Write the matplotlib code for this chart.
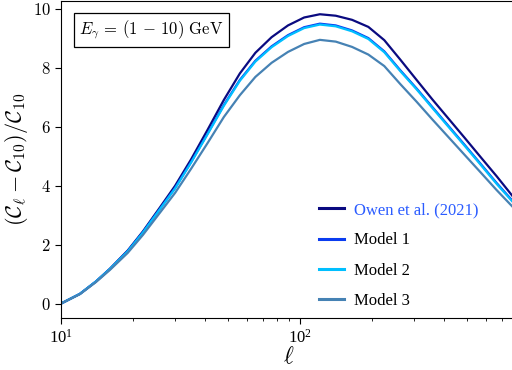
import matplotlib
matplotlib.use('Agg')
import matplotlib.pyplot as plt
from matplotlib.ticker import FuncFormatter

plt.rcParams['font.family'] = 'serif'
plt.rcParams['font.serif'] = ['Liberation Serif', 'DejaVu Serif']
plt.rcParams['mathtext.fontset'] = 'cm'

# multipole bins
ell = [10, 12, 14, 16, 19, 22, 26, 30, 35, 41, 48, 56, 65, 76, 89, 104, 121,
       141, 165, 193, 225, 263, 307, 358, 418, 488, 570, 665, 776, 906]

owen = [0.00, 0.33, 0.75, 1.18, 1.80, 2.45, 3.28, 4.00, 4.90, 5.90, 6.92, 7.82,
        8.52, 9.05, 9.45, 9.72, 9.83, 9.78, 9.64, 9.40, 8.95, 8.28, 7.60, 6.93,
        6.28, 5.63, 4.97, 4.32, 3.64, 3.00]
model1 = [0.00, 0.33, 0.75, 1.17, 1.78, 2.42, 3.23, 3.93, 4.81, 5.77, 6.75, 7.60,
          8.25, 8.74, 9.12, 9.39, 9.51, 9.45, 9.28, 9.02, 8.57, 7.92, 7.31, 6.67,
          6.03, 5.39, 4.74, 4.09, 3.48, 2.87]
model2 = [0.00, 0.33, 0.75, 1.17, 1.77, 2.41, 3.22, 3.91, 4.79, 5.75, 6.72, 7.57,
          8.22, 8.71, 9.09, 9.36, 9.48, 9.42, 9.25, 8.99, 8.54, 7.89, 7.28, 6.64,
          6.00, 5.36, 4.71, 4.06, 3.45, 2.84]
model3 = [0.00, 0.32, 0.73, 1.14, 1.72, 2.33, 3.10, 3.76, 4.58, 5.45, 6.34, 7.08,
          7.70, 8.18, 8.55, 8.82, 8.96, 8.90, 8.72, 8.46, 8.07, 7.45, 6.86, 6.25,
          5.65, 5.05, 4.45, 3.85, 3.28, 2.70]

series = [
    ('Owen et al. (2021)', owen, '#0a0a80'),
    ('Model 1', model1, '#0a3cf0'),
    ('Model 2', model2, '#00bfff'),
    ('Model 3', model3, '#4682b4'),
]

fig = plt.figure(figsize=(5.12, 3.70), dpi=100)
ax = fig.add_axes([61 / 512, 52 / 370, 455 / 512, 317 / 370])

for name, vals, col in series:
    ax.plot(ell, vals, color=col, lw=1.6, label=name)

ax.set_xscale('log')
ax.set_xlim(10, 800)
ax.set_ylim(-0.49, 10.28)
ax.set_yticks([0, 2, 4, 6, 8, 10])
ax.yaxis.set_major_formatter(FuncFormatter(lambda v, p: r'$%d$' % v))
ax.tick_params(axis='both', which='major', labelsize=12, length=4)
ax.tick_params(axis='both', which='minor', length=2.5)

ax.set_xlabel(r'$\ell$', fontsize=17, labelpad=0)
ax.set_ylabel(r'$(\mathcal{C}_\ell-\mathcal{C}_{10})/\mathcal{C}_{10}$', fontsize=16,
              labelpad=2)

ax.text(0.04, 0.945, r'$E_\gamma\,=\,(1\,-\,10)\ \mathrm{GeV}$', transform=ax.transAxes,
        fontsize=12, va='top', ha='left',
        bbox=dict(boxstyle='square,pad=0.32', fc='white', ec='black', lw=0.9))

leg = ax.legend(loc='lower left', bbox_to_anchor=(0.535, -0.018), frameon=False,
                fontsize=12, handlelength=1.5, handletextpad=0.6, labelspacing=0.85)
for line in leg.get_lines():
    line.set_linewidth(2.2)
leg.get_texts()[0].set_color('#2b5cff')

fig.savefig('out.png', dpi=100)
